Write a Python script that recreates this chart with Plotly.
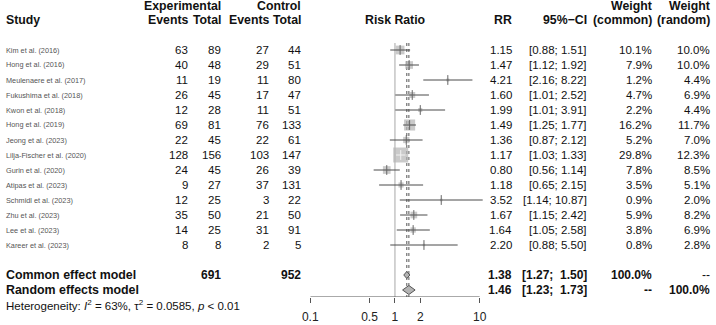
import math
import plotly.graph_objects as go

# ---------------- data ----------------
studies = ["Kim et al. (2016)", "Hong et al. (2016)", "Meulenaere et al. (2017)",
           "Fukushima et al. (2018)", "Kwon et al. (2018)", "Hong et al. (2019)",
           "Jeong et al. (2023)", "Lilja-Fischer et al. (2020)", "Gurin et al. (2020)",
           "Atipas et al. (2023)", "Schmidl et al. (2023)", "Zhu et al. (2023)",
           "Lee et al. (2023)", "Kareer et al. (2023)"]
exp_events = [63, 40, 11, 26, 12, 69, 22, 128, 24, 9, 12, 35, 14, 8]
exp_total = [89, 48, 19, 45, 28, 81, 45, 156, 45, 27, 25, 50, 25, 8]
ctrl_events = [27, 29, 11, 17, 11, 76, 22, 103, 26, 37, 3, 21, 31, 2]
ctrl_total = [44, 51, 80, 47, 51, 133, 61, 147, 39, 131, 22, 50, 91, 5]
rr = [1.15, 1.47, 4.21, 1.60, 1.99, 1.49, 1.36, 1.17, 0.80, 1.18, 3.52, 1.67, 1.64, 2.20]
ci_low = [0.88, 1.12, 2.16, 1.01, 1.01, 1.25, 0.87, 1.03, 0.56, 0.65, 1.14, 1.15, 1.05, 0.88]
ci_high = [1.51, 1.92, 8.22, 2.52, 3.91, 1.77, 2.12, 1.33, 1.14, 2.15, 10.87, 2.42, 2.58, 5.50]
w_common = [10.1, 7.9, 1.2, 4.7, 2.2, 16.2, 5.2, 29.8, 7.8, 3.5, 0.9, 5.9, 3.8, 0.8]
w_random = [10.0, 10.0, 4.4, 6.9, 4.4, 11.7, 7.0, 12.3, 8.5, 5.1, 2.0, 8.2, 6.9, 2.8]
common_est = [1.38, 1.27, 1.50]   # estimate, lower, upper
random_est = [1.46, 1.23, 1.73]
total_exp = 691
total_ctrl = 952
tick_vals = [0.1, 0.5, 1, 2, 10]
tick_labels = ["0.1", "0.5", "1", "2", "10"]
heterogeneity = "Heterogeneity: <i>I</i><sup>2</sup> = 63%, τ<sup>2</sup> = 0.0585, <i>p</i> &lt; 0.01"

# ---------------- layout helpers ----------------
W, H = 716, 325
AX_Y = 297             # pixel row of the x axis
X0_PX = 307            # pixel of 0.1
PX_DEC = 86            # pixels per decade
XMAX_LOG = 1.045
LEFT_X = -3
FONT = "Liberation Sans, Arial, sans-serif"
row_y = [50 + 15 * i for i in range(len(studies))]
Y_COMMON, Y_RANDOM, Y_HET = 275, 290, 305


def px(x):
    return x / W


def py(y):
    return 1 - y / H


fig = go.Figure()
annotations = []


def txt(x, y, s, size=12, bold=False, anchor="right", color="#111", font=FONT):
    annotations.append(dict(
        x=px(x), y=py(y), xref="paper", yref="paper", text=("<b>%s</b>" % s) if bold else s,
        showarrow=False, xanchor=anchor, yanchor="middle",
        font=dict(family=font, size=size, color=color), borderpad=0))


# CI lines (white when the line lies fully inside the square)
max_w = max(w_common)
sizes = [15 * math.sqrt(w / max_w) for w in w_common]
inside = [PX_DEC * math.log10(ci_high[i] / ci_low[i]) < sizes[i] for i in range(len(studies))]
dark_x, dark_y, light_x, light_y = [], [], [], []
for i in range(len(studies)):
    if inside[i]:
        light_x += [ci_low[i], ci_high[i], None]
        light_y += [row_y[i], row_y[i], None]
    else:
        dark_x += [ci_low[i], ci_high[i], None]
        dark_y += [row_y[i], row_y[i], None]

# squares
fig.add_trace(go.Scatter(x=rr, y=row_y, mode="markers",
                         marker=dict(symbol="square", size=sizes, color="#b4b4b4",
                                     line=dict(width=0)),
                         cliponaxis=False, hoverinfo="skip"))
fig.add_trace(go.Scatter(x=dark_x, y=dark_y, mode="lines",
                         line=dict(color="#4a4a4a", width=1), hoverinfo="skip"))
fig.add_trace(go.Scatter(x=light_x, y=light_y, mode="lines",
                         line=dict(color="#f2f2f2", width=1), hoverinfo="skip"))
# estimate ticks
tick_colors = ["#f2f2f2" if inside[i] else "#666" for i in range(len(studies))]
fig.add_trace(go.Scatter(x=rr, y=row_y, mode="markers",
                         marker=dict(symbol="line-ns", size=7,
                                     line=dict(width=1, color=tick_colors)),
                         cliponaxis=False, hoverinfo="skip"))

# diamonds
for est, yc, h in [(common_est, Y_COMMON, 3.5), (random_est, Y_RANDOM, 4.5)]:
    e, lo, hi = est
    fig.add_trace(go.Scatter(x=[lo, e, hi, e, lo], y=[yc, yc - h, yc, yc + h, yc],
                             mode="lines", fill="toself", fillcolor="#b4b4b4",
                             line=dict(color="#555", width=1), hoverinfo="skip"))

shapes = [
    dict(type="line", xref="x", yref="y", x0=1, x1=1, y0=43, y1=AX_Y,
         line=dict(color="#a8a8a8", width=1), layer="below"),
    dict(type="line", xref="x", yref="y", x0=common_est[0], x1=common_est[0], y0=43, y1=AX_Y,
         line=dict(color="#555", width=1, dash="dot"), layer="below"),
    dict(type="line", xref="x", yref="y", x0=random_est[0], x1=random_est[0], y0=43, y1=AX_Y,
         line=dict(color="#555", width=1, dash="dot"), layer="below"),
    dict(type="line", xref="x", yref="y", x0=tick_vals[0], x1=tick_vals[-1], y0=AX_Y, y1=AX_Y,
         line=dict(color="#555", width=1)),
]

# headers
txt(LEFT_X, 20, "Study", size=12.3, bold=True, anchor="left")
txt(217, 6, "Experimental", size=12.3, bold=True)
txt(184, 19.5, "Events", size=12.3, bold=True)
txt(217, 19.5, "Total", size=12.3, bold=True)
txt(299, 6, "Control", size=12.3, bold=True)
txt(266, 19.5, "Events", size=12.3, bold=True)
txt(299, 19.5, "Total", size=12.3, bold=True)
txt(394, 19.5, "Risk Ratio", size=12.3, bold=True, anchor="center")
txt(513, 19.5, "RR", size=12.3, bold=True)
txt(589, 19.5, "95%−CI", size=12.3, bold=True)
txt(655, 6, "Weight", size=12.3, bold=True)
txt(655, 19.5, "(common)", size=12.3, bold=True)
txt(714, 6, "Weight", size=12.3, bold=True)
txt(714, 19.5, "(random)", size=12.3, bold=True)

# study rows
for i, s in enumerate(studies):
    y = row_y[i]
    txt(LEFT_X, y, s, size=7.3, anchor="left", color="#555")
    txt(184, y, str(exp_events[i]), size=11.5)
    txt(217, y, str(exp_total[i]), size=11.5)
    txt(266, y, str(ctrl_events[i]), size=11.5)
    txt(299, y, str(ctrl_total[i]), size=11.5)
    txt(513, y, "%.2f" % rr[i], size=11.5)
    txt(589, y, "[%.2f; %.2f]" % (ci_low[i], ci_high[i]), size=11.5)
    txt(655, y, "%.1f%%" % w_common[i], size=11.5)
    txt(714, y, "%.1f%%" % w_random[i], size=11.5)

# summary rows
txt(LEFT_X, Y_COMMON, "Common effect model", size=12.4, bold=True, anchor="left")
txt(217, Y_COMMON, str(total_exp), size=12, bold=True)
txt(299, Y_COMMON, str(total_ctrl), size=12, bold=True)
txt(513, Y_COMMON, "%.2f" % common_est[0], size=12, bold=True)
txt(589, Y_COMMON, "[%.2f;  %.2f]" % (common_est[1], common_est[2]), size=12, bold=True)
txt(655, Y_COMMON, "100.0%", size=12, bold=True)
txt(714, Y_COMMON, "--", size=12)
txt(LEFT_X, Y_RANDOM, "Random effects model", size=12.4, bold=True, anchor="left")
txt(513, Y_RANDOM, "%.2f" % random_est[0], size=12, bold=True)
txt(589, Y_RANDOM, "[%.2f;  %.2f]" % (random_est[1], random_est[2]), size=12, bold=True)
txt(655, Y_RANDOM, "--", size=12, bold=True)
txt(714, Y_RANDOM, "100.0%", size=12, bold=True)
txt(LEFT_X, Y_HET, heterogeneity, size=11.5, anchor="left")

fig.update_layout(
    width=W, height=H, margin=dict(l=0, r=0, t=0, b=0, pad=0), autosize=False,
    paper_bgcolor="white", plot_bgcolor="white", showlegend=False,
    xaxis=dict(type="log", range=[-1, XMAX_LOG],
               domain=[px(X0_PX), px(X0_PX + PX_DEC * (1 + XMAX_LOG))],
               tickvals=tick_vals, ticktext=tick_labels, ticks="outside", ticklen=5,
               tickcolor="#555", showline=False, showgrid=False, zeroline=False,
               tickfont=dict(family=FONT, size=12, color="#222"), ticklabelstandoff=4),
    yaxis=dict(range=[AX_Y, 0], domain=[(H - AX_Y) / H, 1], visible=False, showgrid=False),
    shapes=shapes, annotations=annotations,
)

fig.write_html("out.html", config={"responsive": False, "displayModeBar": False},
               post_script="document.body.style.margin='0px';document.body.style.overflow='hidden';")
